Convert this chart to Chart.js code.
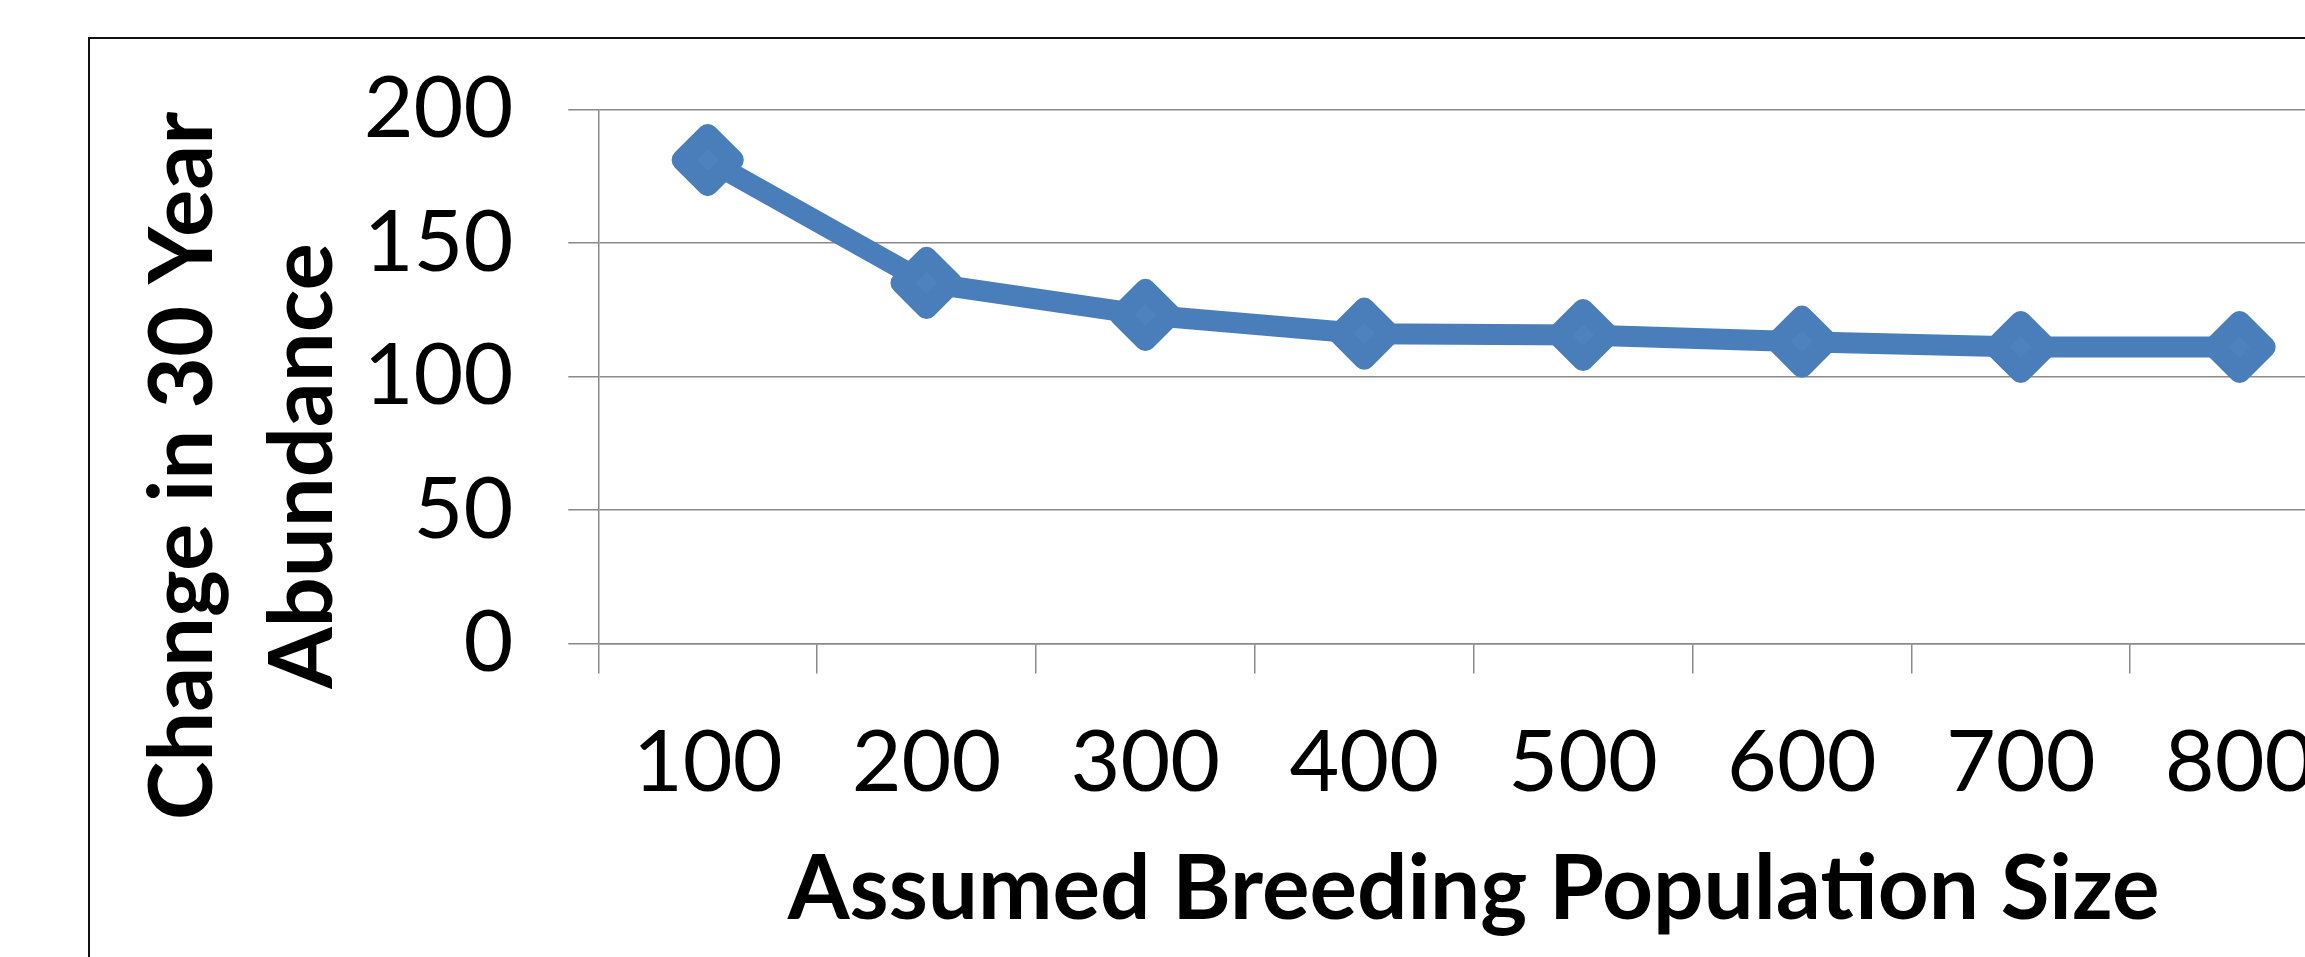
<!DOCTYPE html>
<html><head><meta charset="utf-8">
<script src="https://cdn.jsdelivr.net/npm/chart.js@4/dist/chart.umd.min.js"></script>
<style>
html,body{margin:0;padding:0;overflow:hidden;background:#fff;width:2305px;height:957px}
#wrap{position:absolute;left:0;top:0;width:2400px;height:957px}
canvas{display:block}
</style></head><body>
<div id="wrap"><canvas id="c" width="2400" height="957"></canvas></div>
<script>
const categories = ['100', '200', '300', '400', '500', '600', '700', '800'];
const abundanceChange = [181, 135, 123, 116, 115.5, 113, 111, 111];
const yTicks = [0, 50, 100, 150, 200];
const xTitle = 'Assumed Breeding Population Size';
const yTitleLines = ['Change in 30 Year', 'Abundance'];

const GRID = '#8a8a8a';
const BLUE = '#4A7EBB';

const framePlugin = {
  id: 'frame',
  beforeDraw(chart) {
    const ctx = chart.ctx;
    ctx.save();
    ctx.fillStyle = '#fff';
    ctx.fillRect(0, 0, chart.width, chart.height);
    ctx.strokeStyle = '#111';
    ctx.lineWidth = 2;
    ctx.strokeRect(89, 38, 5000, 5000);
    ctx.restore();
  },
  beforeDatasetsDraw(chart) { chart.ctx.lineJoin = 'round'; },
  afterDatasetsDraw(chart) { chart.ctx.lineJoin = 'miter'; },
  afterDraw(chart) {
    const ctx = chart.ctx;
    const baseX = [212, 332];
    const cy = 466;
    ctx.save();
    ctx.fillStyle = '#000';
    ctx.font = 'bold 88.5px Lato';
    ctx.textAlign = 'center';
    ctx.textBaseline = 'alphabetic';
    yTitleLines.forEach((t, i) => {
      ctx.save();
      ctx.translate(baseX[i], cy);
      ctx.rotate(-Math.PI / 2);
      ctx.fillText(t, 0, 0);
      ctx.restore();
    });
    ctx.restore();
  }
};

new Chart(document.getElementById('c'), {
  type: 'line',
  data: {
    labels: categories,
    datasets: [{
      data: abundanceChange,
      borderColor: BLUE,
      borderWidth: 21,
      borderJoinStyle: 'round',
      tension: 0,
      pointStyle: 'rectRot',
      pointRadius: 25.6,
      pointBorderWidth: 21,
      pointBackgroundColor: '#4F81BD',
      pointBorderColor: BLUE,
      fill: false
    }]
  },
  options: {
    responsive: false,
    animation: false,
    events: [],
    layout: { padding: { left: 0, right: 51, top: 109.3, bottom: 0 } },
    plugins: { legend: { display: false }, tooltip: { enabled: false } },
    scales: {
      x: {
        type: 'category',
        offset: true,
        grid: { offset: true, drawOnChartArea: false, drawTicks: true, tickLength: 30, color: GRID, lineWidth: 1.5 },
        border: { display: true, color: GRID, width: 1.5 },
        ticks: { color: '#000', font: { family: 'Lato', size: 86 }, padding: 38, maxRotation: 0, autoSkip: false },
        title: { display: true, text: xTitle, color: '#000', font: { family: 'Lato', size: 89, weight: 'bold', lineHeight: 1 }, padding: { top: 0, bottom: 22 } },
        afterFit(s) { s.height = 313.5; }
      },
      y: {
        min: yTicks[0],
        max: yTicks[yTicks.length - 1],
        ticks: { stepSize: yTicks[1] - yTicks[0], color: '#000', font: { family: 'Lato', size: 86 }, padding: 55 },
        grid: { drawTicks: true, tickLength: 30, color: GRID, lineWidth: 1.5 },
        border: { display: true, color: GRID, width: 1.5 },
        afterFit(s) { s.width = 598.3; }
      }
    }
  },
  plugins: [framePlugin]
});
</script>
</body></html>
